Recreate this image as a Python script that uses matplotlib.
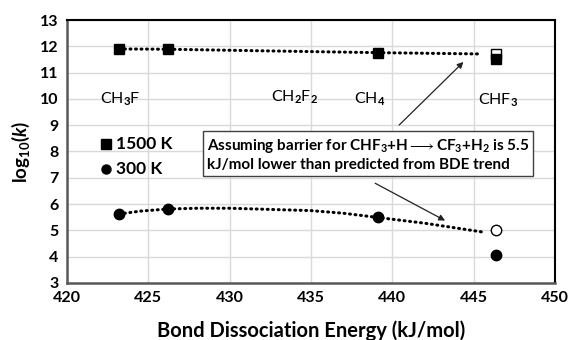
import matplotlib
matplotlib.use('Agg')
import matplotlib.pyplot as plt

plt.rcParams['font.family'] = ['Lato', 'DejaVu Sans']
plt.rcParams['mathtext.fontset'] = 'custom'
plt.rcParams['mathtext.rm'] = 'Lato:bold'
plt.rcParams['mathtext.it'] = 'Lato:bold:italic'
plt.rcParams['mathtext.bf'] = 'Lato:bold'

# === data ===
bde = [423.2, 426.2, 439.1]
k_1500 = [11.90, 11.90, 11.76]
k_300 = [5.62, 5.81, 5.49]

chf3_bde = 446.4
chf3_1500 = 11.50
chf3_1500_pred = 11.69
chf3_300 = 4.06
chf3_300_pred = 5.01

# trend lines
trend_1500_x = [423.2, 426.2, 432.0, 439.1, 445.5]
trend_1500_y = [11.90, 11.89, 11.83, 11.76, 11.71]
trend_300_x = [423.2, 424.5, 426.2, 428.0, 430.0, 435.0, 437.0, 439.1, 442.0, 445.5]
trend_300_y = [5.62, 5.73, 5.81, 5.84, 5.84, 5.75, 5.65, 5.49, 5.27, 4.94]

species = ['CH$_3$F', 'CH$_2$F$_2$', 'CH$_4$', 'CHF$_3$']
species_x = [423.3, 434.0, 438.6, 446.5]
species_y = [10.0, 10.05, 9.97, 9.95]

# === plotting ===
fig = plt.figure(figsize=(5.7, 3.4), dpi=100)
ax = fig.add_axes([0.1175, 0.168, 0.856, 0.773])

dots = dict(color='black', lw=2.2, linestyle=(0, (0.3, 1.5)), dash_capstyle='round')
ax.plot(trend_1500_x, trend_1500_y, **dots, zorder=2)
ax.plot(trend_300_x, trend_300_y, **dots, zorder=2)

ax.plot(bde, k_1500, 's', color='black', ms=7.5, zorder=3)
ax.plot(bde, k_300, 'o', color='black', ms=7.5, zorder=3)
ax.plot([chf3_bde], [chf3_1500_pred], 's', mfc='white', mec='black', ms=7, mew=1, zorder=3)
ax.plot([chf3_bde], [chf3_1500], 's', color='black', ms=7, zorder=4)
ax.plot([chf3_bde], [chf3_300_pred], 'o', mfc='white', mec='black', ms=7.5, mew=1, zorder=3)
ax.plot([chf3_bde], [chf3_300], 'o', color='black', ms=7.5, zorder=3)

for name, x, y in zip(species, species_x, species_y):
    ax.text(x, y, name, ha='center', va='center', fontsize=11.5)

# legend drawn as text in the plot
ax.plot([422.4], [8.3], 's', color='black', ms=7)
ax.text(423.0, 8.3, '1500 K', va='center', fontsize=12.5, fontweight='bold')
ax.plot([422.4], [7.33], 'o', color='black', ms=6.5)
ax.text(423.0, 7.33, '300 K', va='center', fontsize=12.5, fontweight='bold')

note = ('Assuming barrier for CHF$_3$+H$\\longrightarrow$CF$_3$+H$_2$ is 5.5\n'
        'kJ/mol lower than predicted from BDE trend')
ax.text(428.6, 7.88, note, ha='left', va='center', fontsize=11, fontweight='bold',
        linespacing=1.3,
        bbox=dict(boxstyle='square,pad=0.25', fc='white', ec='#404040', lw=1), zorder=5)

ax.annotate('', xy=(444.5, 11.48), xytext=(440.3, 8.93),
            arrowprops=dict(arrowstyle='-|>', color='#222222', lw=0.9, mutation_scale=9), zorder=4)
ax.annotate('', xy=(443.4, 5.32), xytext=(438.8, 6.84),
            arrowprops=dict(arrowstyle='-|>', color='#222222', lw=0.9, mutation_scale=9), zorder=4)

ax.set_xlim(420, 450)
ax.set_ylim(3, 13)
ax.set_xticks(range(420, 451, 5))
ax.set_yticks(range(3, 14))
ax.grid(True, color='#d9d9d9', lw=1)
ax.set_axisbelow(True)
ax.tick_params(length=0, labelsize=11.5, pad=6)
for lab in ax.get_xticklabels() + ax.get_yticklabels():
    lab.set_fontweight('bold')

for side in ['top', 'right']:
    ax.spines[side].set_color('black')
    ax.spines[side].set_linewidth(1.5)
for side in ['left', 'bottom']:
    ax.spines[side].set_color('#595959')
    ax.spines[side].set_linewidth(1.8)

ax.set_xlabel('Bond Dissociation Energy (kJ/mol)', fontsize=14.5, fontweight='bold', labelpad=11)
ax.set_ylabel('log$_{10}$($k$)', fontsize=13.5, fontweight='bold', labelpad=6)

plt.savefig('out.png', dpi=100)
